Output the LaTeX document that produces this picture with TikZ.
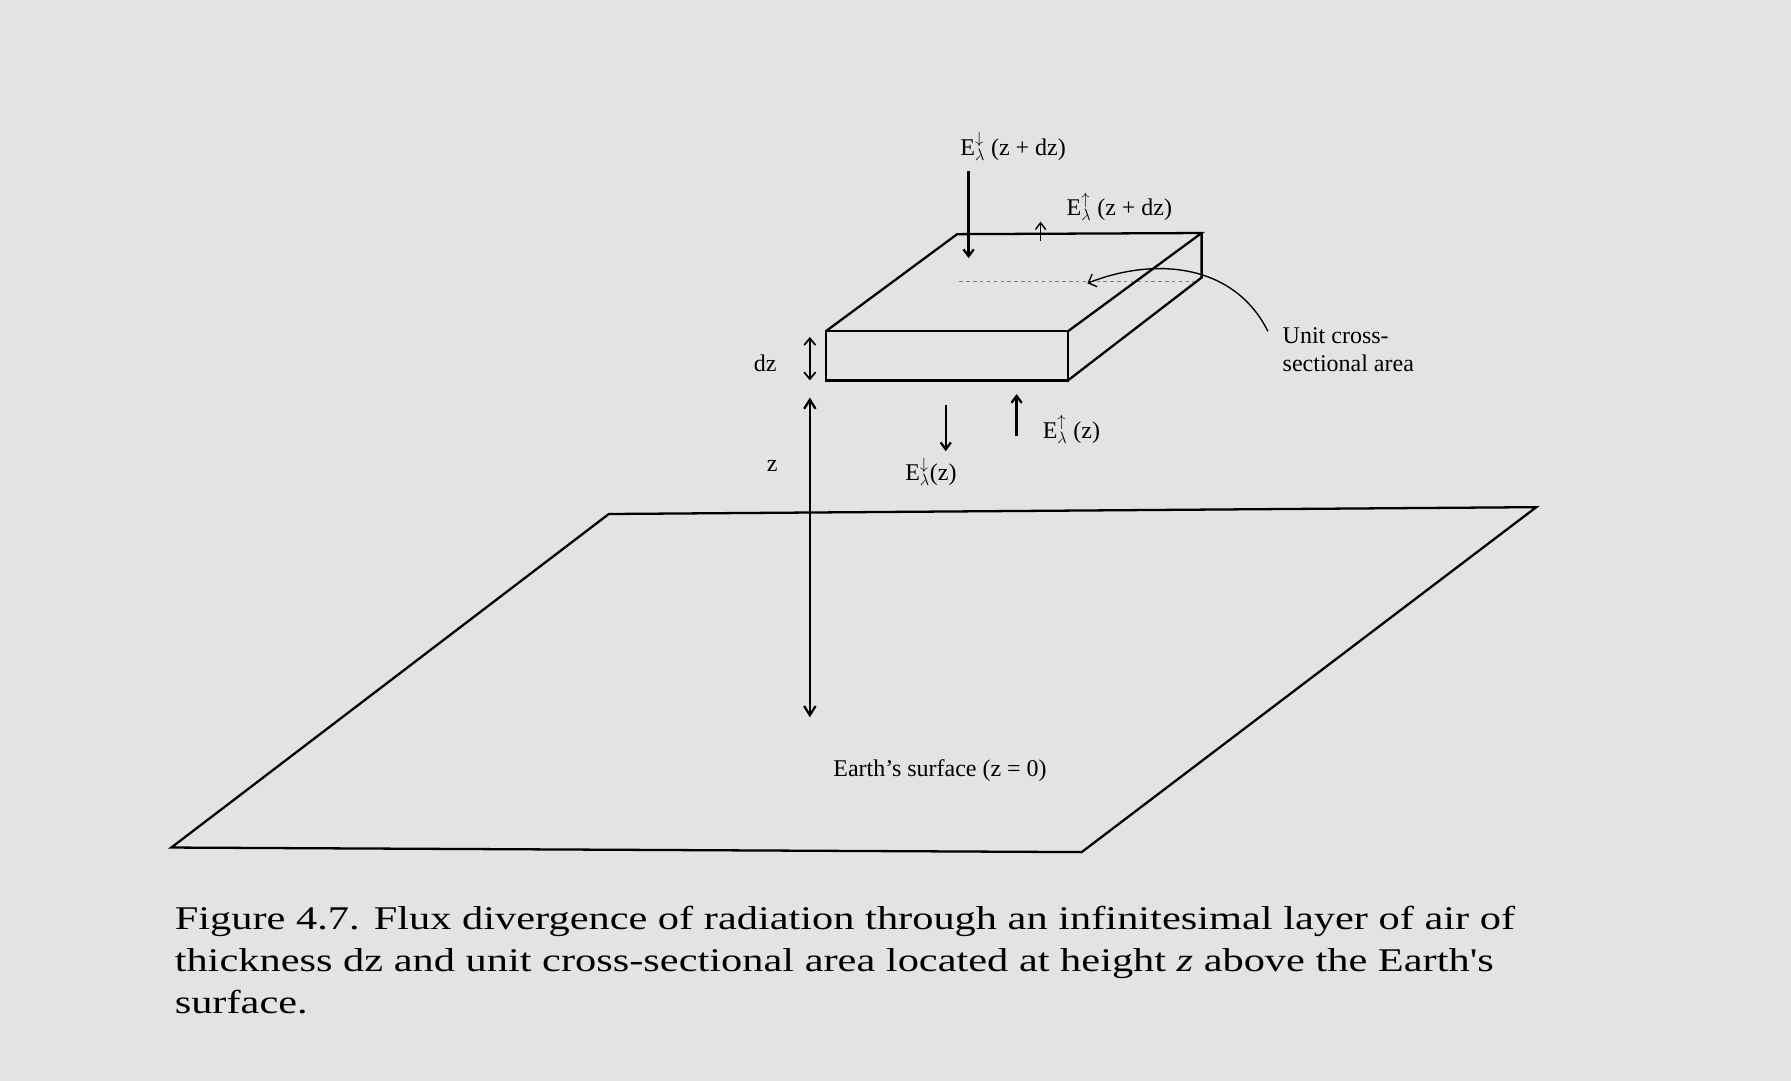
\documentclass[tikz,border=0pt]{standalone}
\usepackage{fontspec}
\setmainfont{Liberation Serif}
\newfontfamily\capfont{Liberation Serif}[FakeStretch=1.28]
\usetikzlibrary{arrows.meta}
\begin{document}
\begin{tikzpicture}[x=1pt,y=-1pt,line width=2pt,
  lbl/.style={font=\fontsize{21}{24}\selectfont,inner sep=0pt},
  arr/.style={-{Straight Barb[length=6pt,width=9pt]}}]
\fill[gray!22] (0,0) rectangle (1568,946);
\useasboundingbox (0,0) rectangle (1568,946);
% ground
\draw (533,450) -- (1345,444) -- (947,746) -- (150,742) -- cycle;
% box
\draw (723,290) rectangle (935,333);
\draw (723,290) -- (838,205) -- (1052,204) -- (935,290);
\draw (935,333) -- (1052,243) -- (1052,204);
\draw[line width=0.6pt,dash pattern=on 3pt off 3pt,gray] (840,246) -- (1045,246);
\coordinate (ua) at (952,248);
\draw[line width=1.2pt,-{Straight Barb[length=6pt]}] (1110,290) .. controls (1080,230) and (1010,225) .. (ua);
% axes
\coordinate (zt) at (709,348); \coordinate (zb) at (709,628);
\draw[{Straight Barb[length=8pt,width=10pt]}-{Straight Barb[length=8pt,width=10pt]}] (zt) -- (zb);
\coordinate (dt) at (709,295); \coordinate (db) at (709,333);
\draw[line width=1.5pt,{Straight Barb[length=6pt,width=10pt]}-{Straight Barb[length=6pt,width=10pt]}] (dt) -- (db);
\node[lbl] (dz) at (670,318) {dz};
\node[lbl] (z) at (676,408) {z};
% fluxes
\coordinate (a1) at (848,150); \coordinate (a2) at (848,226);
\draw[arr] (a1) -- (a2);
\node[lbl] (e1) at (887,128) {E$_\lambda^{\downarrow}$ (z + dz)};
\coordinate (b1) at (911,211); \coordinate (b2) at (911,194);
\draw[line width=1.2pt,arr] (b1) -- (b2);
\node[lbl] (e2) at (980,181) {E$_\lambda^{\uparrow}$ (z + dz)};
\coordinate (c1) at (828,355); \coordinate (c2) at (828,395);
\draw[arr] (c1) -- (c2);
\node[lbl] (e3) at (815,413) {E$_\lambda^{\downarrow}$(z)};
\coordinate (d1) at (890,382); \coordinate (d2) at (890,345);
\draw[arr] (d1) -- (d2);
\node[lbl] (e4) at (938,376) {E$_\lambda^{\uparrow}$ (z)};
\node[lbl,align=left,anchor=north west] (ua) at (1122,286) {Unit cross-\\sectional area};
\node[lbl] (es) at (823,675) {Earth's surface (z = 0)};
\node[anchor=north west,align=left,inner sep=0pt,font=\capfont\fontsize{29}{37}\selectfont] (cap) at (152,792)
{Figure 4.7. Flux divergence of radiation through an infinitesimal layer of air of\\
thickness dz and unit cross-sectional area located at height \textit{z} above the Earth's\\
surface.};
\end{tikzpicture}
\end{document}
